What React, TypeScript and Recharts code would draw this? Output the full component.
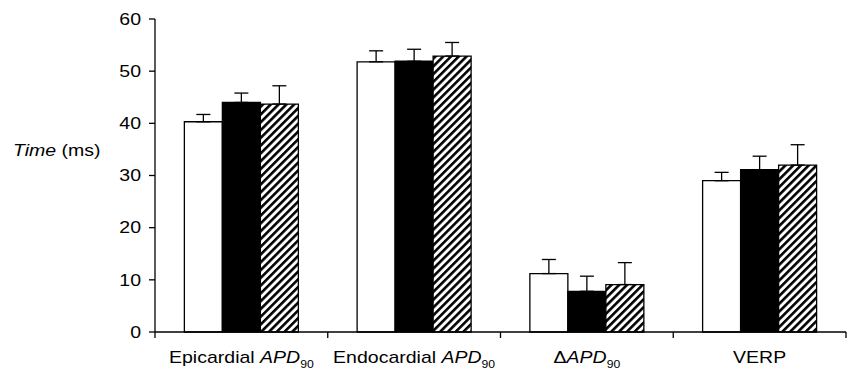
import React from 'react';
import { BarChart, Bar, XAxis, YAxis, ErrorBar, Label } from 'recharts';

const categories = ['Epicardial', 'Endocardial', 'Delta', 'VERP'];
const labelPlain = ['Epicardial ', 'Endocardial ', 'Δ', ''];
const labelItalic = ['APD', 'APD', 'APD', ''];
const labelSub = ['90', '90', '90', ''];
const labelTail = ['', '', '', 'VERP'];

const controlValues = [40.3, 51.8, 11.2, 29.0];
const controlErrors = [1.4, 2.1, 2.7, 1.6];
const blackValues = [44.0, 51.9, 7.8, 31.1];
const blackErrors = [1.8, 2.3, 2.9, 2.6];
const hatchValues = [43.7, 52.9, 9.1, 32.0];
const hatchErrors = [3.5, 2.6, 4.2, 3.9];

const yTicks = [0, 10, 20, 30, 40, 50, 60];

const data = categories.map((c, i) => ({
  name: c,
  idx: i,
  a: controlValues[i],
  aErr: [0, controlErrors[i]],
  b: blackValues[i],
  bErr: [0, blackErrors[i]],
  c: hatchValues[i],
  cErr: [0, hatchErrors[i]],
}));

const FONT = '"Liberation Sans", Arial, sans-serif';
const SX = 1.22;
const CHART_W = 848;
const CHART_H = 377;
const MARGIN = { top: 19, right: 2, bottom: 0, left: 0 };
const Y_W = 155;
const X_H = 45;
const HALF = (CHART_W - Y_W - MARGIN.right) / categories.length / 2;

const XTick = (props: any) => {
  const { x, y, payload, index } = props;
  const i = payload && typeof payload.index === 'number' ? payload.index : index;
  return (
    <g>
      <line x1={x - HALF} x2={x - HALF} y1={y} y2={y + 6} stroke="#000" strokeWidth={1.3} />
      {i === categories.length - 1 && (
        <line x1={x + HALF} x2={x + HALF} y1={y} y2={y + 6} stroke="#000" strokeWidth={1.3} />
      )}
      <g transform={`translate(${x} ${y + 31}) scale(${SX} 1)`}>
        <text x={0} y={0} textAnchor="middle" fontSize={16} fontFamily={FONT} fill="#000">
          <tspan>{labelPlain[i]}</tspan>
          {labelItalic[i] ? <tspan fontStyle="italic">{labelItalic[i]}</tspan> : null}
          {labelTail[i] ? <tspan>{labelTail[i]}</tspan> : null}
          {labelSub[i] ? (
            <tspan fontSize={10} dy={5}>{labelSub[i]}</tspan>
          ) : null}
        </text>
      </g>
    </g>
  );
};

const YTick = (props: any) => {
  const { x, y, payload } = props;
  return (
    <g transform={`translate(${x} ${y}) scale(${SX} 1)`}>
      <text x={0} y={0} dy="0.36em" textAnchor="end" fontSize={16} fontFamily={FONT} fill="#000">
        {payload.value}
      </text>
    </g>
  );
};

const YLabel = () => (
  <g transform={`translate(13 156) scale(${SX} 1)`}>
    <text x={0} y={0} fontSize={16} fontFamily={FONT} fill="#000">
      <tspan fontStyle="italic">Time</tspan>
      <tspan> (ms)</tspan>
    </text>
  </g>
);

export default function App() {
  return (
    <div style={{ position: 'absolute', left: 0, top: 0, background: '#fff' }}>
      <BarChart
        width={CHART_W}
        height={CHART_H}
        data={data}
        margin={MARGIN}
        barCategoryGap="17%"
        barGap={0}
      >
        <defs>
          <pattern
            id="hatch"
            patternUnits="userSpaceOnUse"
            width={5.5}
            height={5.5}
            patternTransform="rotate(45)"
          >
            <rect x={0} y={0} width={5.5} height={5.5} fill="#fff" />
            <rect x={0} y={0} width={2.6} height={5.5} fill="#000" />
          </pattern>
        </defs>
        <XAxis
          dataKey="name"
          height={X_H}
          axisLine={{ stroke: '#000', strokeWidth: 1.3 }}
          tickLine={false}
          tickSize={0}
          tickMargin={0}
          tick={<XTick />}
          interval={0}
        />
        <YAxis
          width={Y_W}
          domain={[0, 60]}
          ticks={yTicks}
          interval={0}
          axisLine={{ stroke: '#000', strokeWidth: 1.3 }}
          tickLine={{ stroke: '#000', strokeWidth: 1.3 }}
          tickSize={6}
          tickMargin={8}
          tick={<YTick />}
        >
          <Label content={<YLabel />} />
        </YAxis>
        <Bar dataKey="a" fill="#fff" stroke="#000" strokeWidth={1.3} isAnimationActive={false}>
          <ErrorBar dataKey="aErr" width={7} stroke="#000" strokeWidth={1.3} direction="y" />
        </Bar>
        <Bar dataKey="b" fill="#000" stroke="#000" strokeWidth={1.3} isAnimationActive={false}>
          <ErrorBar dataKey="bErr" width={7} stroke="#000" strokeWidth={1.3} direction="y" />
        </Bar>
        <Bar dataKey="c" fill="url(#hatch)" stroke="#000" strokeWidth={1.3} isAnimationActive={false}>
          <ErrorBar dataKey="cErr" width={7} stroke="#000" strokeWidth={1.3} direction="y" />
        </Bar>
      </BarChart>
    </div>
  );
}
